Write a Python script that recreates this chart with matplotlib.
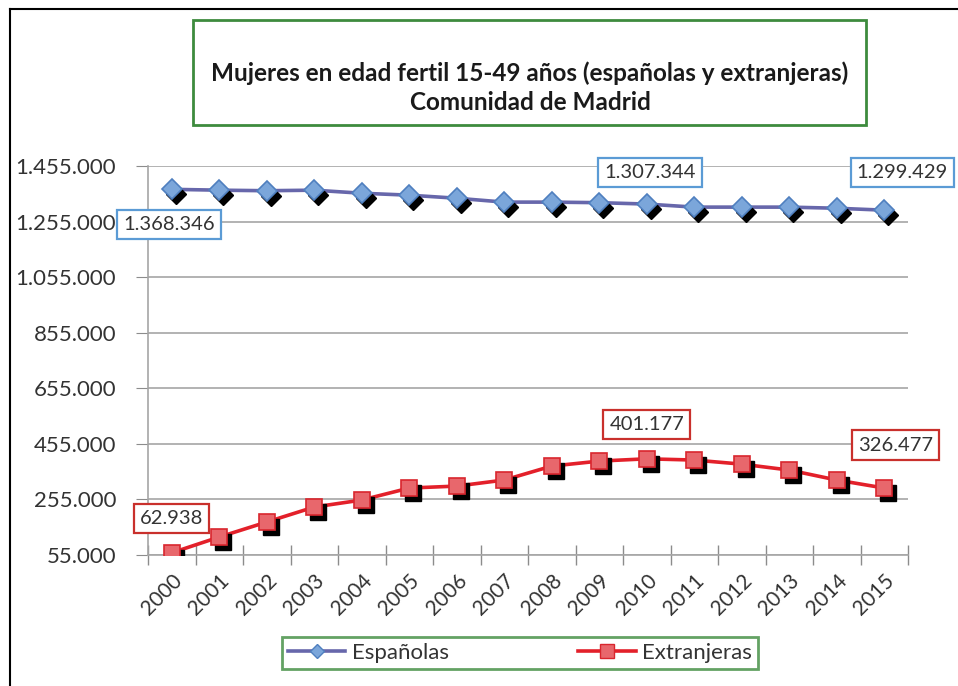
import matplotlib.pyplot as plt
import matplotlib.transforms as mtransforms
from matplotlib.lines import Line2D
from matplotlib.patches import Rectangle
from matplotlib.ticker import FuncFormatter

plt.rcParams['font.family'] = ['Lato', 'DejaVu Sans']

years = [str(y) for y in range(2000, 2016)]
espanolas = [1371000, 1368000, 1366000, 1368000, 1357000, 1350000, 1339000, 1325000,
             1325000, 1323000, 1318000, 1307000, 1307000, 1307000, 1303000, 1296000]
extranjeras = [62938, 119700, 173700, 227700, 252800, 296000, 303000, 324800,
               375000, 393000, 401177, 396700, 382000, 360700, 324800, 296000]

# data labels: (year index, text)
label_esp = [(0, "1.368.346"), (10, "1.307.344"), (15, "1.299.429")]
label_ext = [(0, "62.938"), (10, "401.177"), (15, "326.477")]

yticks = list(range(55000, 1455001, 200000))

fig = plt.figure(figsize=(9.58, 6.86), dpi=100)
ax = fig.add_axes([148 / 958, 1 - 555 / 686, 760 / 958, 389 / 686])

x = list(range(len(years)))
shadow = mtransforms.offset_copy(ax.transData, fig=fig, x=4, y=-5, units='dots')

ax.plot(x, espanolas, color='#6767ab', lw=2.6, zorder=3)
ax.plot(x, espanolas, ls='none', marker='D', ms=10.5, color='black', transform=shadow, zorder=3.5)
ax.plot(x, espanolas, ls='none', marker='D', ms=10.5, mfc='#7ba6da', mec='#4f7fbf', mew=1.2, zorder=4)

ax.plot(x, extranjeras, color='#e3202a', lw=2.6, zorder=3)
ax.plot(x, extranjeras, ls='none', marker='s', ms=11, color='black', transform=shadow, zorder=3.5)
ax.plot(x, extranjeras, ls='none', marker='s', ms=11, mfc='#e8676c', mec='#d9262e', mew=1.2, zorder=4)

# legend proxies
h_esp = Line2D([], [], color='#6767ab', lw=2.6, marker='D', ms=7, mfc='#7ba6da', mec='#4f7fbf')
h_ext = Line2D([], [], color='#e3202a', lw=2.6, marker='s', ms=10, mfc='#e8676c', mec='#d9262e')

esp_offsets = [(-3, -35), (3, 32), (18, 38)]
ext_offsets = [(0, 34), (0, 34), (11, 43)]
for (i, txt), off in zip(label_esp, esp_offsets):
    ax.annotate(txt, (x[i], espanolas[i]), xytext=off, textcoords='offset pixels',
                ha='center', va='center', fontsize=14.5, color='#333333', zorder=6,
                bbox=dict(boxstyle='square,pad=0.3', fc='white', ec='#5b9bd5', lw=1.6))
for (i, txt), off in zip(label_ext, ext_offsets):
    ax.annotate(txt, (x[i], extranjeras[i]), xytext=off, textcoords='offset pixels',
                ha='center', va='center', fontsize=14.5, color='#333333', zorder=6,
                bbox=dict(boxstyle='square,pad=0.3', fc='white', ec='#c9302c', lw=1.6))

ax.set_xlim(-0.5, len(years) - 0.5)
ax.set_ylim(55000, 1455000)
ax.set_yticks(yticks)
ax.yaxis.set_major_formatter(FuncFormatter(lambda v, p: f"{int(v):,}".replace(",", ".")))
ax.set_xticks(x)
ax.set_xticklabels(years, rotation=45, ha='right', rotation_mode='anchor', fontsize=15)
ax.set_xticks([i - 0.5 for i in range(len(years) + 1)], minor=True)
ax.tick_params(axis='x', which='major', length=0, pad=11)
ax.tick_params(axis='x', which='minor', length=14, direction='inout', color='#8c8c8c', width=1)
ax.tick_params(axis='y', length=9, color='#8c8c8c', labelsize=16, labelcolor='#333333', pad=14)
ax.tick_params(axis='x', labelcolor='#333333')
ax.grid(axis='y', color='#a6a6a6', lw=1.2)
ax.set_axisbelow(True)
for s in ['top', 'right']:
    ax.spines[s].set_visible(False)
for s in ['left', 'bottom']:
    ax.spines[s].set_color('#a6a6a6')
    ax.spines[s].set_linewidth(1.2)

# title box
fig.add_artist(Rectangle((193 / 958, 1 - 125 / 686), 673 / 958, 105 / 686, transform=fig.transFigure,
                         fill=False, ec='#3d8b3d', lw=2))
fig.text(530 / 958, 1 - 73 / 686, "Mujeres en edad fertil 15-49 años (españolas y extranjeras)",
         ha='center', va='center', fontsize=17.5, fontweight='bold', color='#1a1a1a')
fig.text(530 / 958, 1 - 103 / 686, "Comunidad de Madrid",
         ha='center', va='center', fontsize=17.5, fontweight='bold', color='#1a1a1a')

# legend box
leg = fig.legend([h_esp, h_ext], ["Españolas", "Extranjeras"], loc='center',
                 bbox_to_anchor=(520 / 958, 1 - 653 / 686), ncol=2, fontsize=16,
                 frameon=True, fancybox=False, edgecolor='#3d8b3d', borderpad=0.25,
                 columnspacing=5.8, handlelength=2.6, handletextpad=0.3, borderaxespad=0)
leg.get_frame().set_linewidth(2)
for t in leg.get_texts():
    t.set_color('#333333')

# outer frame (top and left)
fig.add_artist(Line2D([10 / 958, 1], [1 - 9 / 686, 1 - 9 / 686], transform=fig.transFigure, color='black', lw=1.5))
fig.add_artist(Line2D([10 / 958, 10 / 958], [0, 1 - 9 / 686], transform=fig.transFigure, color='black', lw=1.5))

fig.savefig("out.png", dpi=100)
